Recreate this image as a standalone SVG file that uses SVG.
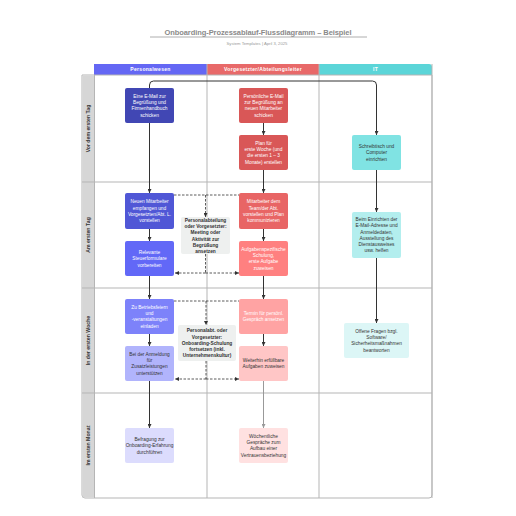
<svg xmlns="http://www.w3.org/2000/svg" width="516" height="516" viewBox="0 0 516 516">
<defs>
<style>
.t{font-family:"Liberation Sans",Arial,sans-serif;font-size:4.8px;text-anchor:middle}
.w{fill:#ffffff}
.d{fill:#333333}
.b{font-weight:bold}
.hd{font-family:"Liberation Sans",Arial,sans-serif;font-size:5px;font-weight:bold;fill:#ffffff;text-anchor:middle;letter-spacing:0.3px}
.rl{font-family:"Liberation Sans",Arial,sans-serif;font-size:5.2px;font-weight:bold;fill:#333333;text-anchor:middle}
.grid{stroke:#b5b5b5;stroke-width:1;fill:none}
.c{stroke:#333333;stroke-width:1;fill:none;marker-end:url(#ah)}
.cg{stroke:#999999;stroke-width:1;fill:none;marker-end:url(#ahg)}
.ds{stroke:#333333;stroke-width:0.8;fill:none;stroke-dasharray:2.5,1.5}
.dsa{stroke:#333333;stroke-width:0.8;fill:none;stroke-dasharray:2.5,1.5;marker-end:url(#ah)}
</style>
<marker id="ah" viewBox="0 0 4 4" refX="4" refY="2" markerWidth="4" markerHeight="4" markerUnits="userSpaceOnUse" orient="auto"><path d="M0,0 L4,2 L0,4 z" fill="#333333"/></marker>
<marker id="ahg" viewBox="0 0 4 4" refX="4" refY="2" markerWidth="4" markerHeight="4" markerUnits="userSpaceOnUse" orient="auto"><path d="M0,0 L4,2 L0,4 z" fill="#999999"/></marker>
</defs>
<rect width="516" height="516" fill="#ffffff"/>

<g id="title">
<text x="258" y="35" font-family="Liberation Sans,Arial,sans-serif" font-size="7.5" font-weight="bold" fill="#8a8a8a" text-anchor="middle" textLength="187" lengthAdjust="spacing">Onboarding-Prozessablauf-Flussdiagramm – Beispiel</text>
<line x1="150" y1="37" x2="367" y2="37" stroke="#999999" stroke-width="0.8"/>
<text x="257" y="45" font-family="Liberation Sans,Arial,sans-serif" font-size="4.2" fill="#9a9a9a" text-anchor="middle">System Templates  |  April 3, 2025</text>
</g>

<g id="lanes">
<path d="M94,75 V67 Q94,64 97,64 H429 Q432,64 432,67 V75 Z" fill="#ffffff"/>
<rect x="94" y="64" width="113" height="11" fill="#6467f4"/>
<rect x="207" y="64" width="112" height="11" fill="#e86969"/>
<path d="M319,64 H429 Q432,64 432,67 V75 H319 Z" fill="#5bd5d8"/>
<text class="hd" x="150.5" y="71.3">Personalwesen</text>
<text class="hd" x="263" y="71.3">Vorgesetzter/Abteilungsleiter</text>
<text class="hd" x="375.5" y="71.3">IT</text>
<path d="M82,75 H432 V495 Q432,498 429,498 H85 Q82,498 82,495 Z" fill="#ffffff" stroke="#b5b5b5" stroke-width="1"/>
<rect x="82.5" y="75.5" width="12" height="422" fill="#d6d6d6"/>
<line class="grid" x1="94.5" y1="75" x2="94.5" y2="498"/>
<line class="grid" x1="207" y1="64" x2="207" y2="498"/>
<line class="grid" x1="319" y1="64" x2="319" y2="498"/>
<line class="grid" x1="432" y1="64" x2="432" y2="498"/>
<line class="grid" x1="82" y1="182" x2="432" y2="182"/>
<line class="grid" x1="82" y1="288" x2="432" y2="288"/>
<line class="grid" x1="82" y1="393" x2="432" y2="393"/>
<text class="rl" transform="translate(90.3,128.5) rotate(-90)">Vor dem ersten Tag</text>
<text class="rl" transform="translate(90.3,235) rotate(-90)">Am ersten Tag</text>
<text class="rl" transform="translate(90.3,340.5) rotate(-90)">In der ersten Woche</text>
<text class="rl" transform="translate(90.3,445.5) rotate(-90)">Im ersten Monat</text>
</g>

<g id="connectors">
<path class="c" d="M149.5,88 V85 Q149.5,81 153.5,81 H372.5 Q376.5,81 376.5,85 V135"/>
<line class="c" x1="149.5" y1="123" x2="149.5" y2="193"/>
<line class="c" x1="149.5" y1="229" x2="149.5" y2="241"/>
<line class="c" x1="149.5" y1="276" x2="149.5" y2="299"/>
<line class="c" x1="149.5" y1="334" x2="149.5" y2="346"/>
<line class="c" x1="149.5" y1="381" x2="149.5" y2="428"/>
<line class="c" x1="263.5" y1="123" x2="263.5" y2="135"/>
<line class="c" x1="263.5" y1="170" x2="263.5" y2="193"/>
<line class="c" x1="263.5" y1="229" x2="263.5" y2="241"/>
<line class="c" x1="263.5" y1="276" x2="263.5" y2="299"/>
<line class="c" x1="263.5" y1="334" x2="263.5" y2="346"/>
<line class="cg" x1="263.5" y1="381" x2="263.5" y2="428"/>
<line class="c" x1="376.5" y1="170" x2="376.5" y2="212"/>
<line class="c" x1="376.5" y1="258" x2="376.5" y2="323"/>
<path class="ds" d="M174,195 H239"/>
<path class="dsa" d="M205.5,195 V217"/>
<path class="ds" d="M205.5,254 V273"/>
<path class="dsa" d="M205.5,273 H175"/>
<path class="dsa" d="M205.5,273 H239"/>
<path class="ds" d="M174,301 H239"/>
<path class="dsa" d="M206,301 V325"/>
<path class="ds" d="M206,361 V379"/>
<path class="dsa" d="M206,379 H175"/>
<path class="dsa" d="M206,379 H239"/>
</g>

<g id="n1"><rect x="125" y="88" width="49" height="35" rx="2" fill="#4147b4"/>
<text class="t w" x="149.5" y="97.8">Eine E-Mail zur<tspan x="149.5" dy="6.3">Begrüßung und</tspan><tspan x="149.5" dy="6.3">Firmenhandbuch</tspan><tspan x="149.5" dy="6.3">schicken</tspan></text></g>

<g id="n2"><rect x="239" y="88" width="49" height="35" rx="2" fill="#d95757"/>
<text class="t w" x="263.5" y="97.8">Persönliche E-Mail<tspan x="263.5" dy="6.3">zur Begrüßung an</tspan><tspan x="263.5" dy="6.3">neuen Mitarbeiter</tspan><tspan x="263.5" dy="6.3">schicken</tspan></text></g>

<g id="n3"><rect x="239" y="135" width="49" height="35" rx="2" fill="#d95757"/>
<text class="t w" x="263.5" y="144.8">Plan für<tspan x="263.5" dy="6.3">erste Woche (und</tspan><tspan x="263.5" dy="6.3">die ersten 1 – 3</tspan><tspan x="263.5" dy="6.3">Monate) erstellen</tspan></text></g>

<g id="n4"><rect x="352" y="135" width="49" height="35" rx="2" fill="#80e3e3"/>
<text class="t d" x="376.5" y="147.9">Schreibtisch und<tspan x="376.5" dy="6.3">Computer</tspan><tspan x="376.5" dy="6.3">einrichten</tspan></text></g>

<g id="n5"><rect x="125" y="193" width="49" height="36" rx="2" fill="#5057d6"/>
<text class="t w" x="149.5" y="203.3">Neuen Mitarbeiter<tspan x="149.5" dy="6.3">empfangen und</tspan><tspan x="149.5" dy="6.3">Vorgesetzten/Abt. L.</tspan><tspan x="149.5" dy="6.3">vorstellen</tspan></text></g>

<g id="n6"><rect x="125" y="241" width="49" height="35" rx="2" fill="#6268f7"/>
<text class="t w" x="149.5" y="253.9">Relevante<tspan x="149.5" dy="6.3">Steuerformulare</tspan><tspan x="149.5" dy="6.3">vorbereiten</tspan></text></g>

<g id="note1"><rect x="181" y="217" width="49" height="37" rx="2" fill="#eef0ef"/>
<text class="t d b" x="205.5" y="222">Personalabteilung<tspan x="205.5" dy="6.2">oder Vorgesetzter:</tspan><tspan x="205.5" dy="6.2">Meeting oder</tspan><tspan x="205.5" dy="6.2">Aktivität zur</tspan><tspan x="205.5" dy="6.2">Begrüßung</tspan><tspan x="205.5" dy="6.2">ansetzen</tspan></text></g>

<g id="n7"><rect x="239" y="193" width="49" height="36" rx="2" fill="#e86565"/>
<text class="t w" x="263.5" y="203.3">Mitarbeiter dem<tspan x="263.5" dy="6.3">Team/der Abt.</tspan><tspan x="263.5" dy="6.3">vorstellen und Plan</tspan><tspan x="263.5" dy="6.3">kommunizieren</tspan></text></g>

<g id="n8"><rect x="239" y="241" width="49" height="35" rx="2" fill="#ff8080"/>
<text class="t w" x="263.5" y="250.8">Aufgabenspezifische<tspan x="263.5" dy="6.3">Schulung,</tspan><tspan x="263.5" dy="6.3">erste Aufgabe</tspan><tspan x="263.5" dy="6.3">zuweisen</tspan></text></g>

<g id="n9"><rect x="352" y="212" width="49" height="46" rx="2" fill="#b3eeee"/>
<text class="t d" x="376.5" y="220.9">Beim Einrichten der<tspan x="376.5" dy="6.3">E-Mail-Adresse und</tspan><tspan x="376.5" dy="6.3">Anmeldedaten,</tspan><tspan x="376.5" dy="6.3">Ausstellung des</tspan><tspan x="376.5" dy="6.3">Dienstausweises</tspan><tspan x="376.5" dy="6.3">usw. helfen</tspan></text></g>

<g id="n10"><rect x="125" y="299" width="49" height="35" rx="2" fill="#7d82fa"/>
<text class="t w" x="149.5" y="308.8">Zu Betriebsfeiern<tspan x="149.5" dy="6.3">und</tspan><tspan x="149.5" dy="6.3">-veranstaltungen</tspan><tspan x="149.5" dy="6.3">einladen</tspan></text></g>

<g id="n11"><rect x="125" y="346" width="49" height="35" rx="2" fill="#b1b4fc"/>
<text class="t d" x="149.5" y="355.8">Bei der Anmeldung<tspan x="149.5" dy="6.3">für</tspan><tspan x="149.5" dy="6.3">Zusatzleistungen</tspan><tspan x="149.5" dy="6.3">unterstützen</tspan></text></g>

<g id="note2"><rect x="178" y="325" width="58" height="36" rx="2" fill="#eef0ef"/>
<text class="t d b" x="207" y="332.3">Personalabt. oder<tspan x="207" dy="6.2">Vorgesetzter:</tspan><tspan x="207" dy="6.2">Onboarding-Schulung</tspan><tspan x="207" dy="6.2">fortsetzen (inkl.</tspan><tspan x="207" dy="6.2">Unternehmenskultur)</tspan></text></g>

<g id="n12"><rect x="239" y="299" width="49" height="35" rx="2" fill="#ffa3a3"/>
<text class="t w" x="263.5" y="315">Termin für persönl.<tspan x="263.5" dy="6.3">Gespräch ansetzen</tspan></text></g>

<g id="n13"><rect x="239" y="346" width="49" height="35" rx="2" fill="#ffc6c6"/>
<text class="t d" x="263.5" y="362">Weiterhin erfüllbare<tspan x="263.5" dy="6.3">Aufgaben zuweisen</tspan></text></g>

<g id="n14"><rect x="344" y="323" width="65" height="35" rx="2" fill="#dcf6f6"/>
<text class="t d" x="376.5" y="332.8">Offene Fragen bzgl.<tspan x="376.5" dy="6.3">Software/</tspan><tspan x="376.5" dy="6.3">Sicherheitsmaßnahmen</tspan><tspan x="376.5" dy="6.3">beantworten</tspan></text></g>

<g id="n15"><rect x="125" y="428" width="49" height="35" rx="2" fill="#dcdcfd"/>
<text class="t d" x="149.5" y="440.9">Befragung zur<tspan x="149.5" dy="6.3">Onboarding-Erfahrung</tspan><tspan x="149.5" dy="6.3">durchführen</tspan></text></g>

<g id="n16"><rect x="239" y="428" width="49" height="35" rx="2" fill="#ffe1e1"/>
<text class="t d" x="263.5" y="437.8">Wöchentliche<tspan x="263.5" dy="6.3">Gespräche zum</tspan><tspan x="263.5" dy="6.3">Aufbau einer</tspan><tspan x="263.5" dy="6.3">Vertrauensbeziehung</tspan></text></g>
</svg>
